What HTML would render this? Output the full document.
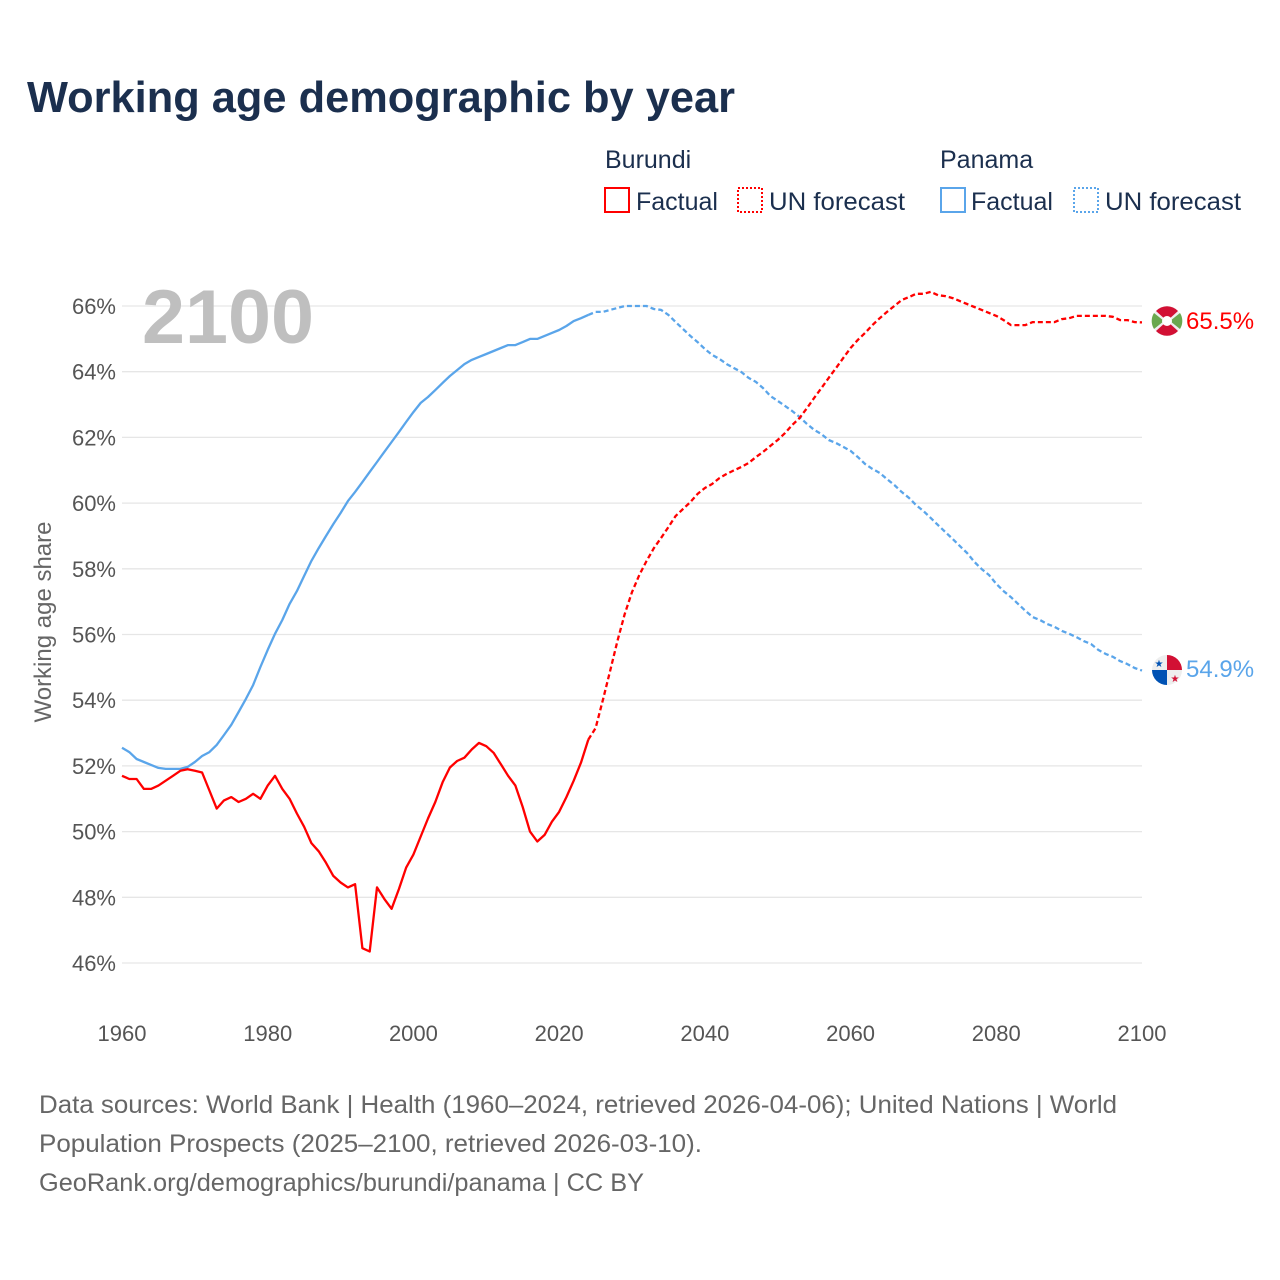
<!DOCTYPE html>
<html><head><meta charset="utf-8"><style>
html,body{margin:0;padding:0;background:#fff;}
svg{display:block;font-family:"Liberation Sans",sans-serif;}
</style></head><body>
<svg id="chart" width="1280" height="1280" viewBox="0 0 1280 1280" xmlns="http://www.w3.org/2000/svg">
<text x="27" y="112" font-size="44" font-weight="bold" fill="#1b2f4e" textLength="708" lengthAdjust="spacingAndGlyphs">Working age demographic by year</text>
<g font-size="25" fill="#1b2f4e">
<text x="605" y="168">Burundi</text>
<text x="940" y="168">Panama</text>
<g><rect x="605" y="188" width="24" height="24" fill="none" stroke="#f00" stroke-width="2"/><text x="636" y="210">Factual</text></g>
<g><rect x="738" y="188" width="24" height="24" fill="none" stroke="#f00" stroke-width="2" stroke-dasharray="2,2"/><text x="769" y="210" textLength="136" lengthAdjust="spacingAndGlyphs">UN forecast</text></g>
<g><rect x="941" y="188" width="24" height="24" fill="none" stroke="#5aa5ea" stroke-width="2"/><text x="971" y="210">Factual</text></g>
<g><rect x="1074" y="188" width="24" height="24" fill="none" stroke="#5aa5ea" stroke-width="2" stroke-dasharray="2,2"/><text x="1105" y="210" textLength="136" lengthAdjust="spacingAndGlyphs">UN forecast</text></g>
</g>
<g id="grid"></g>
<g id="yticks"></g>
<g id="xticks"></g>
<text x="142" y="343" font-size="76" font-weight="bold" fill="#bfbfbf" textLength="172" lengthAdjust="spacingAndGlyphs">2100</text>
<text transform="translate(51,622) rotate(-90)" text-anchor="middle" font-size="24" fill="#666">Working age share</text>
<g id="series"></g>
<g>
<circle cx="1167" cy="321" r="15" fill="#eee"/>
<path d="M1156,311 L1167,321 L1178,311 A15,15 0 0 0 1156,311Z" fill="#d21034"/>
<path d="M1156,331 L1167,321 L1178,331 A15,15 0 0 1 1156,331Z" fill="#d21034"/>
<path d="M1154,313 L1164,321 L1154,329 A15,15 0 0 1 1154,313Z" fill="#6aa84f"/>
<path d="M1180,313 L1170,321 L1180,329 A15,15 0 0 0 1180,313Z" fill="#6aa84f"/>
<circle cx="1167" cy="321" r="5" fill="#fff"/>
</g>
<g>
<circle cx="1167" cy="670" r="15" fill="#eee"/>
<path d="M1167,655 A15,15 0 0 1 1182,670 L1167,670Z" fill="#d21034"/>
<path d="M1167,685 A15,15 0 0 1 1152,670 L1167,670Z" fill="#0052b4"/>
<text x="1159" y="667" font-size="10" fill="#0052b4" text-anchor="middle">★</text>
<text x="1175" y="682" font-size="10" fill="#d21034" text-anchor="middle">★</text>
</g>
<text id="lbl-b" x="1186" y="329" font-size="24" fill="#f00">65.5%</text>
<text id="lbl-p" x="1186" y="677" font-size="24" fill="#5aa5ea">54.9%</text>
<g font-size="25" fill="#666">
<text x="39" y="1113" textLength="1078" lengthAdjust="spacingAndGlyphs">Data sources: World Bank | Health (1960–2024, retrieved 2026-04-06); United Nations | World</text>
<text x="39" y="1152" textLength="663" lengthAdjust="spacingAndGlyphs">Population Prospects (2025–2100, retrieved 2026-03-10).</text>
<text x="39" y="1191" textLength="605" lengthAdjust="spacingAndGlyphs">GeoRank.org/demographics/burundi/panama | CC BY</text>
</g>
</svg>
<script>
const yTicks=[46,48,50,52,54,56,58,60,62,64,66];
const xTicks=[1960,1980,2000,2020,2040,2060,2080,2100];
const burundiFactual=[51.7,51.6,51.6,51.3,51.3,51.4,51.55,51.7,51.85,51.9,51.85,51.8,51.25,50.7,50.95,51.05,50.9,51.0,51.15,51.0,51.4,51.7,51.3,51.0,50.55,50.15,49.65,49.4,49.05,48.65,48.45,48.3,48.4,46.45,46.35,48.3,47.95,47.65,48.25,48.9,49.3,49.85,50.4,50.9,51.5,51.95,52.15,52.25,52.5,52.7,52.6,52.4,52.05,51.7,51.4,50.75,50.0,49.7,49.9,50.3,50.6,51.05,51.55,52.1,52.8];
const burundiForecast=[52.8,53.15,54.01,54.89,55.8,56.62,57.29,57.81,58.24,58.63,58.94,59.27,59.61,59.82,60.03,60.28,60.46,60.58,60.76,60.89,61.0,61.1,61.22,61.4,61.56,61.74,61.92,62.13,62.38,62.59,62.89,63.2,63.5,63.81,64.11,64.42,64.72,64.97,65.18,65.42,65.63,65.82,66.0,66.18,66.27,66.37,66.37,66.43,66.33,66.3,66.24,66.15,66.06,65.97,65.88,65.79,65.7,65.57,65.42,65.42,65.42,65.51,65.51,65.51,65.51,65.6,65.63,65.7,65.7,65.7,65.7,65.7,65.67,65.57,65.57,65.51,65.5];
const panamaFactual=[52.55,52.42,52.21,52.12,52.03,51.94,51.91,51.91,51.91,51.97,52.12,52.3,52.42,52.64,52.94,53.25,53.64,54.04,54.46,55.01,55.53,56.02,56.44,56.93,57.32,57.78,58.24,58.63,59.0,59.36,59.7,60.06,60.34,60.64,60.95,61.25,61.56,61.86,62.16,62.47,62.77,63.05,63.23,63.44,63.66,63.87,64.05,64.23,64.36,64.45,64.54,64.63,64.72,64.81,64.81,64.9,65.0,65.0,65.09,65.18,65.27,65.39,65.54,65.63,65.73];
const panamaForecast=[65.73,65.82,65.82,65.88,65.94,66.0,66.0,66.0,66.0,65.91,65.88,65.73,65.51,65.3,65.09,64.9,64.69,64.51,64.39,64.23,64.11,63.99,63.81,63.69,63.5,63.26,63.11,62.96,62.8,62.62,62.41,62.23,62.1,61.92,61.83,61.71,61.59,61.4,61.19,61.04,60.92,60.73,60.55,60.34,60.16,59.94,59.76,59.55,59.33,59.12,58.91,58.69,58.48,58.21,57.99,57.81,57.54,57.32,57.14,56.93,56.72,56.53,56.44,56.32,56.23,56.11,56.02,55.92,55.8,55.71,55.53,55.41,55.32,55.19,55.1,54.98,54.9];
const NS="http://www.w3.org/2000/svg";
const X=yr=>122+(yr-1960)*(1142-122)/140;
const Y=v=>963-(v-46)*(963-306)/20;
function mk(t,p){const e=document.createElementNS(NS,t);for(const k in p)if(k!=='parent')e.setAttribute(k,p[k]);p.parent.appendChild(e);return e;}
const grid=document.getElementById('grid'),yt=document.getElementById('yticks'),xt=document.getElementById('xticks'),ser=document.getElementById('series');
yTicks.forEach(v=>{
 const l=mk('line',{parent:grid,x1:122,x2:1142,y1:Y(v),y2:Y(v),stroke:'#e6e6e6','stroke-width':1.3});
 
 
 const t=mk('text',{parent:yt,x:116,y:Y(v)+8,'text-anchor':'end','font-size':22,fill:'#555'});
 t.textContent=v+'%';
 
 
});
xTicks.forEach(yr=>{
 const t=mk('text',{parent:xt,x:X(yr),y:1041,'text-anchor':'middle','font-size':22,fill:'#555'});
 t.textContent=yr;
 
 
});
function line(arr,start,color,dash,name){
 const d=arr.map((v,i)=>(i?'L':'M')+X(start+i).toFixed(1)+','+Y(v).toFixed(1)).join('');
 const p=mk('path',{parent:ser,d:d,fill:'none',stroke:color,'stroke-width':2.3,'stroke-linejoin':'round'});
 if(dash)p.setAttribute('stroke-dasharray','5,3');
 
 
}
line(panamaFactual,1960,'#5aa5ea',false,'panama-factual-line');
line(panamaForecast,2024,'#5aa5ea',true,'panama-forecast-line');
line(burundiFactual,1960,'#f00',false,'burundi-factual-line');
line(burundiForecast,2024,'#f00',true,'burundi-forecast-line');
</script>
</body></html>
